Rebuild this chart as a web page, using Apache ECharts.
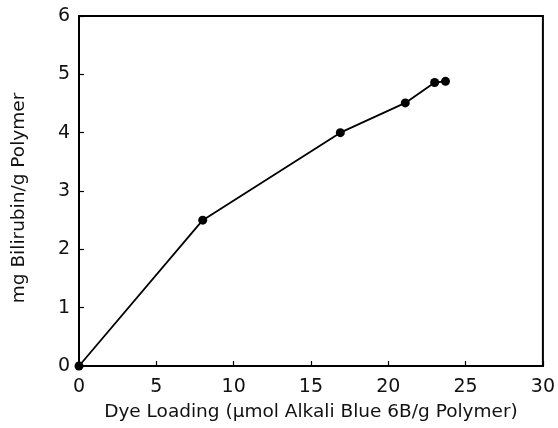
<!DOCTYPE html>
<html><head><meta charset="utf-8">
<script src="https://cdn.jsdelivr.net/npm/echarts@6/dist/echarts.min.js"></script>
<style>html,body{margin:0;padding:0;background:#fff}#c{width:558px;height:428px}</style>
</head><body><div id="c"></div>
<script>
const dyeLoading = [0, 8.0, 16.9, 21.1, 23.0, 23.7];
const bilirubin = [0, 2.5, 4.0, 4.51, 4.86, 4.88];
const xTicks = [0, 5, 10, 15, 20, 25, 30];
const yTicks = [0, 1, 2, 3, 4, 5, 6];
const xName = 'Dye Loading (µmol Alkali Blue 6B/g Polymer)';
const yName = 'mg Bilirubin/g Polymer';

const font = 'DejaVu Sans, Arial, Helvetica, sans-serif';
const chart = echarts.init(document.getElementById('c'), null, {renderer: 'canvas'});
chart.setOption({
  animation: false,
  backgroundColor: '#fff',
  grid: {left: 79, right: 13, top: 16, bottom: 62, show: true, borderColor: '#000', borderWidth: 2, backgroundColor: 'transparent'},
  xAxis: {
    type: 'value', min: xTicks[0], max: xTicks[xTicks.length-1], interval: 5,
    name: xName, nameLocation: 'middle', nameGap: 37,
    nameTextStyle: {fontFamily: font, fontSize: 18.5, color: '#111'},
    axisLine: {show: true, lineStyle: {color: '#000', width: 2}},
    axisTick: {show: true, inside: true, length: 5, lineStyle: {color: '#000', width: 1.2}},
    axisLabel: {fontFamily: font, fontSize: 19, color: '#111', margin: 12},
    splitLine: {show: false}
  },
  yAxis: {
    type: 'value', min: yTicks[0], max: yTicks[yTicks.length-1], interval: 1,
    name: yName, nameLocation: 'middle', nameGap: 50, nameRotate: 90,
    nameTextStyle: {fontFamily: font, fontSize: 18.5, color: '#111', padding: [0, 14, 0, 0]},
    axisLine: {show: true, lineStyle: {color: '#000', width: 2}},
    axisTick: {show: true, inside: true, length: 5, lineStyle: {color: '#000', width: 1.2}},
    axisLabel: {fontFamily: font, fontSize: 19, color: '#111', margin: 9},
    splitLine: {show: false}
  },
  series: [{
    type: 'line',
    data: dyeLoading.map((x, i) => [x, bilirubin[i]]),
    symbol: 'circle', symbolSize: 9,
    itemStyle: {color: '#000'},
    lineStyle: {color: '#000', width: 1.8},
    clip: false
  }]
});
</script></body></html>
